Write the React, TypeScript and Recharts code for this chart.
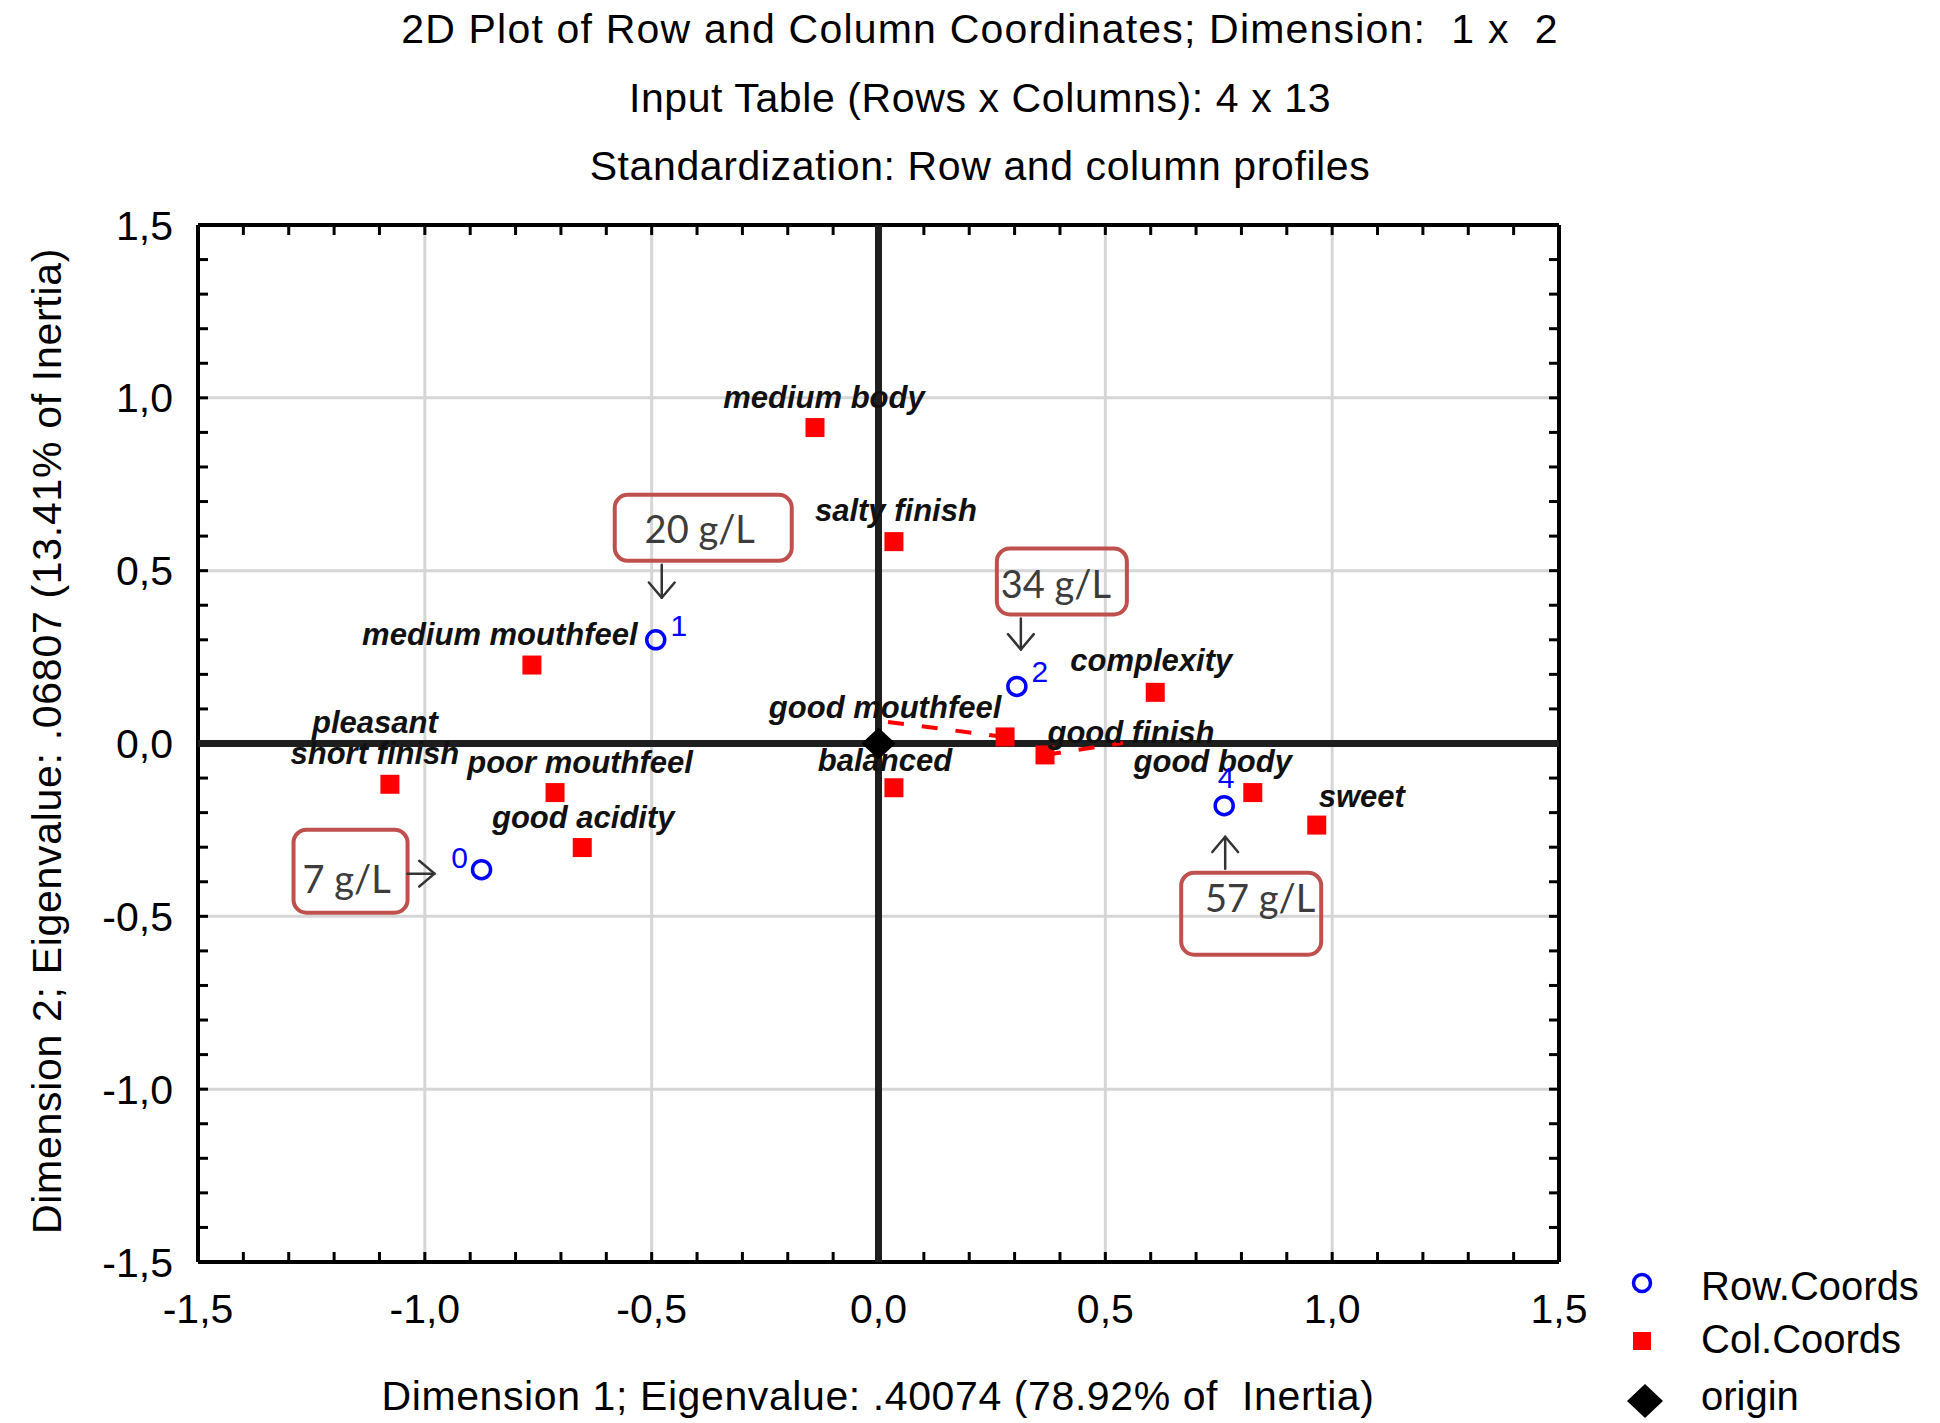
import React from 'react';
import {
  ScatterChart,
  Scatter,
  XAxis,
  YAxis,
  CartesianGrid,
  ReferenceLine,
  ReferenceDot,
} from 'recharts';

// Row points (sugar level samples): dimension 1 / dimension 2
const rowIds = ['0', '1', '2', '4'];
const rowDim1 = [-0.875, -0.491, 0.305, 0.762];
const rowDim2 = [-0.365, 0.3, 0.165, -0.18];

// Column points (sensory descriptors)
const colNames = [
  'medium body',
  'salty finish',
  'medium mouthfeel',
  'complexity',
  'good mouthfeel',
  'good finish',
  'balanced',
  'good body',
  'sweet',
  'pleasant\nshort finish',
  'poor mouthfeel',
  'good acidity',
];
const colDim1 = [-0.14, 0.034, -0.764, 0.61, 0.279, 0.367, 0.034, 0.825, 0.966, -1.077, -0.713, -0.653];
const colDim2 = [0.914, 0.584, 0.227, 0.148, 0.019, -0.033, -0.128, -0.142, -0.236, -0.118, -0.142, -0.301];

const originXY = [0, 0];

const axisTicks = [-1.5, -1, -0.5, 0, 0.5, 1, 1.5];

// concentration call-outs hung on row points
const calloutRows = ['1', '2', '0', '4'];
const calloutLabels = ['20 g/L', '34 g/L', '7 g/L', '57 g/L'];

const titleLines = [
  '2D Plot of Row and Column Coordinates; Dimension:  1 x  2',
  'Input Table (Rows x Columns): 4 x 13',
  'Standardization: Row and column profiles',
];
const xTitle = 'Dimension 1; Eigenvalue: .40074 (78.92% of  Inertia)';
const yTitle = 'Dimension 2; Eigenvalue: .06807 (13.41% of Inertia)';
const legendNames = ['Row.Coords', 'Col.Coords', 'origin'];

const rowPoints = rowIds.map((id, i) => ({ id, x: rowDim1[i], y: rowDim2[i] }));
const colPoints = colNames.map((name, i) => ({ name, x: colDim1[i], y: colDim2[i] }));
const originPoint = [{ x: originXY[0], y: originXY[1] }];

// ---- layout / style ----
const W = 1940;
const H = 1423;
const PLOT = { left: 198, top: 225, right: 1559, bottom: 1262 };
const FONT = '"Liberation Sans", Arial, Helvetica, sans-serif';
const RED = '#ff0000';
const BLUE = '#0000ff';
const BOX_RED = '#c0504d';

// minor tick marks every 0.1 along the frame
const minorTicks = Array.from({ length: 29 }, (_, i) => Math.round((-1.4 + i * 0.1) * 10) / 10);

// label placement in pixels relative to the marker (baseline)
const colLabelPos: Record<string, { dx: number; dy: number; leader?: [number, number] }> = {
  'medium body': { dx: 9, dy: -20 },
  'salty finish': { dx: 2, dy: -21 },
  'medium mouthfeel': { dx: -32, dy: -20 },
  complexity: { dx: -4, dy: -21 },
  'good mouthfeel': { dx: -120, dy: -19, leader: [-118, -15] },
  'good finish': { dx: 86, dy: -12, leader: [78, -12] },
  balanced: { dx: -9, dy: -17 },
  'good body': { dx: -40, dy: -21 },
  sweet: { dx: 45, dy: -18 },
  'pleasant\nshort finish': { dx: -15, dy: -20 },
  'poor mouthfeel': { dx: 25, dy: -20 },
  'good acidity': { dx: 1, dy: -20 },
};

const rowLabelPos: Record<string, [number, number]> = {
  '0': [-22, -2],
  '1': [23, -4],
  '2': [23, -4],
  '4': [2, -18],
};

// box [left, top, w, h], text [x, baseline], arrow [x1, y1, x2(tip), y2(tip)]
const calloutGeom: Record<string, { box: number[]; text: number[]; arrow: number[] }> = {
  '1': { box: [-41, -145, 177, 66], text: [44, -97], arrow: [6, -75, 6, -42] },
  '2': { box: [-20, -138, 130, 66], text: [39, -88], arrow: [4, -68, 4, -37] },
  '0': { box: [-188, -40, 114, 83], text: [-135, 23], arrow: [-74, 4, -47, 4] },
  '4': { box: [-43, 67, 140, 82], text: [36, 106], arrow: [1, 63, 1, 31] },
};

const fmtTick = (v: number) => v.toFixed(1).replace('.', ',');

const ColMarker = (props: any) => {
  const { cx, cy, payload } = props;
  const pos = colLabelPos[payload.name] ?? { dx: 0, dy: -20 };
  const lines: string[] = payload.name.split('\n');
  return (
    <g>
      {pos.leader && (
        <line
          x1={cx}
          y1={cy}
          x2={cx + pos.leader[0]}
          y2={cy + pos.leader[1]}
          stroke={RED}
          strokeWidth={4}
          strokeDasharray="16 18"
        />
      )}
      <rect x={cx - 9.5} y={cy - 9.5} width={19} height={19} fill={RED} />
      {lines.map((t, i) => (
        <text
          key={t}
          x={cx + pos.dx}
          y={cy + pos.dy - (lines.length - 1 - i) * 31}
          textAnchor="middle"
          fontFamily={FONT}
          fontSize={31}
          fontWeight="bold"
          fontStyle="italic"
          fill="#111"
        >
          {t}
        </text>
      ))}
    </g>
  );
};

const RowMarker = (props: any) => {
  const { cx, cy, payload } = props;
  const [dx, dy] = rowLabelPos[payload.id] ?? [20, 0];
  return (
    <g>
      <circle cx={cx} cy={cy} r={9} fill="none" stroke={BLUE} strokeWidth={3.5} />
      <text x={cx + dx} y={cy + dy} textAnchor="middle" fontFamily={FONT} fontSize={30} fill={BLUE}>
        {payload.id}
      </text>
    </g>
  );
};

const OriginMarker = (props: any) => {
  const { cx, cy } = props;
  return <polygon points={`${cx - 17},${cy} ${cx},${cy - 16} ${cx + 17},${cy} ${cx},${cy + 16}`} fill="#000" />;
};

const Callout = ({ cx, cy, text, geom }: { cx: number; cy: number; text: string; geom: any }) => {
  const [bl, bt, bw, bh] = geom.box;
  const [ax1, ay1, ax2, ay2] = geom.arrow;
  const x1 = cx + ax1;
  const y1 = cy + ay1;
  const x2 = cx + ax2;
  const y2 = cy + ay2;
  const ang = Math.atan2(y2 - y1, x2 - x1);
  const L = 20;
  const sp = 0.7;
  const h1 = [x2 + L * Math.cos(ang + Math.PI - sp), y2 + L * Math.sin(ang + Math.PI - sp)];
  const h2 = [x2 + L * Math.cos(ang + Math.PI + sp), y2 + L * Math.sin(ang + Math.PI + sp)];
  return (
    <g>
      <rect x={cx + bl} y={cy + bt} width={bw} height={bh} rx={13} ry={13} fill="none" stroke={BOX_RED} strokeWidth={4} />
      <text
        x={cx + geom.text[0]}
        y={cy + geom.text[1]}
        textAnchor="middle"
        fontFamily="Lato, 'Open Sans', sans-serif"
        fontSize={38}
        fill="#3c3c3c"
      >
        {text}
      </text>
      <g stroke="#333" strokeWidth={2.5} fill="none" strokeLinecap="round" strokeLinejoin="round">
        <line x1={x1} y1={y1} x2={x2} y2={y2} />
        <polyline points={`${h1[0]},${h1[1]} ${x2},${y2} ${h2[0]},${h2[1]}`} />
      </g>
    </g>
  );
};

// small inward ticks at both ends of a full-length reference line
const FrameTicks = (props: any) => {
  const { x1, y1, x2, y2 } = props;
  const L = 10;
  if (Math.abs(x1 - x2) < 0.5) {
    const top = Math.min(y1, y2);
    const bot = Math.max(y1, y2);
    return (
      <g stroke="#000" strokeWidth={3}>
        <line x1={x1} x2={x1} y1={top} y2={top + L} />
        <line x1={x1} x2={x1} y1={bot} y2={bot - L} />
      </g>
    );
  }
  const lft = Math.min(x1, x2);
  const rgt = Math.max(x1, x2);
  return (
    <g stroke="#000" strokeWidth={3}>
      <line x1={lft} x2={lft + L} y1={y1} y2={y1} />
      <line x1={rgt} x2={rgt - L} y1={y1} y2={y1} />
    </g>
  );
};

export default function App() {
  return (
    <div style={{ position: 'absolute', left: 0, top: 0, width: W, height: H, background: '#fff' }}>
      <ScatterChart
        width={W}
        height={H}
        margin={{ top: PLOT.top, right: W - PLOT.right, bottom: 0, left: 0 }}
      >
        <CartesianGrid stroke="#d6d6d6" strokeWidth={3} />
        <XAxis
          type="number"
          dataKey="x"
          domain={[-1.5, 1.5]}
          ticks={axisTicks}
          tickFormatter={fmtTick}
          height={H - PLOT.bottom}
          axisLine={false}
          tickLine={false}
          tickSize={0}
          tickMargin={32}
          tick={{ fontSize: 41, fill: '#000', fontFamily: FONT }}
        />
        <YAxis
          type="number"
          dataKey="y"
          domain={[-1.5, 1.5]}
          ticks={axisTicks}
          tickFormatter={fmtTick}
          width={PLOT.left}
          axisLine={false}
          tickLine={false}
          tickSize={0}
          tickMargin={25}
          tick={{ fontSize: 41, fill: '#000', fontFamily: FONT }}
        />

        {minorTicks.map((v) => (
          <ReferenceLine key={`mx${v}`} x={v} shape={FrameTicks} />
        ))}
        {minorTicks.map((v) => (
          <ReferenceLine key={`my${v}`} y={v} shape={FrameTicks} />
        ))}

        <ReferenceLine x={-1.5} stroke="#000" strokeWidth={4} />
        <ReferenceLine x={1.5} stroke="#000" strokeWidth={4} />
        <ReferenceLine y={-1.5} stroke="#000" strokeWidth={4} />
        <ReferenceLine y={1.5} stroke="#000" strokeWidth={4} />
        <ReferenceLine x={0} stroke="#1e1e1e" strokeWidth={7} />
        <ReferenceLine y={0} stroke="#1e1e1e" strokeWidth={7} />

        <Scatter name="Col.Coords" data={colPoints} fill={RED} shape={ColMarker} isAnimationActive={false} />
        <Scatter name="Row.Coords" data={rowPoints} fill={BLUE} shape={RowMarker} isAnimationActive={false} />
        <Scatter name="origin" data={originPoint} fill="#000" shape={OriginMarker} isAnimationActive={false} />

        {calloutRows.map((id, i) => {
          const p = rowPoints.find((r) => r.id === id)!;
          return (
            <ReferenceDot
              key={`c${id}`}
              x={p.x}
              y={p.y}
              r={0}
              shape={(dp: any) => <Callout cx={dp.cx} cy={dp.cy} text={calloutLabels[i]} geom={calloutGeom[id]} />}
            />
          );
        })}
      </ScatterChart>

      {/* titles, axis titles and legend */}
      <svg
        width={W}
        height={H}
        style={{ position: 'absolute', left: 0, top: 0, pointerEvents: 'none' }}
        fontFamily={FONT}
      >
        {titleLines.map((t, i) => (
          <text
            key={t}
            x={980}
            y={43 + i * 68.5}
            textAnchor="middle"
            fontSize={41}
            letterSpacing={i === 0 ? 1.2 : 0.6}
            fill="#000"
            style={{ whiteSpace: 'pre' }}
          >
            {t}
          </text>
        ))}
        <text x={878} y={1410} textAnchor="middle" fontSize={41} letterSpacing={0.6} fill="#000" style={{ whiteSpace: 'pre' }}>
          {xTitle}
        </text>
        <text
          x={61}
          y={741}
          textAnchor="middle"
          fontSize={41}
          letterSpacing={0.7}
          fill="#000"
          transform="rotate(-90 61 741)"
        >
          {yTitle}
        </text>

        <circle cx={1642} cy={1283} r={8.5} fill="none" stroke={BLUE} strokeWidth={3.5} />
        <rect x={1633} y={1332} width={18} height={18} fill={RED} />
        <polygon points="1627,1401 1645,1384 1663,1401 1645,1418" fill="#000" />
        {legendNames.map((n, i) => (
          <text key={n} x={1701} y={[1300, 1353, 1410][i]} fontSize={40} fill="#000">
            {n}
          </text>
        ))}
      </svg>
    </div>
  );
}
